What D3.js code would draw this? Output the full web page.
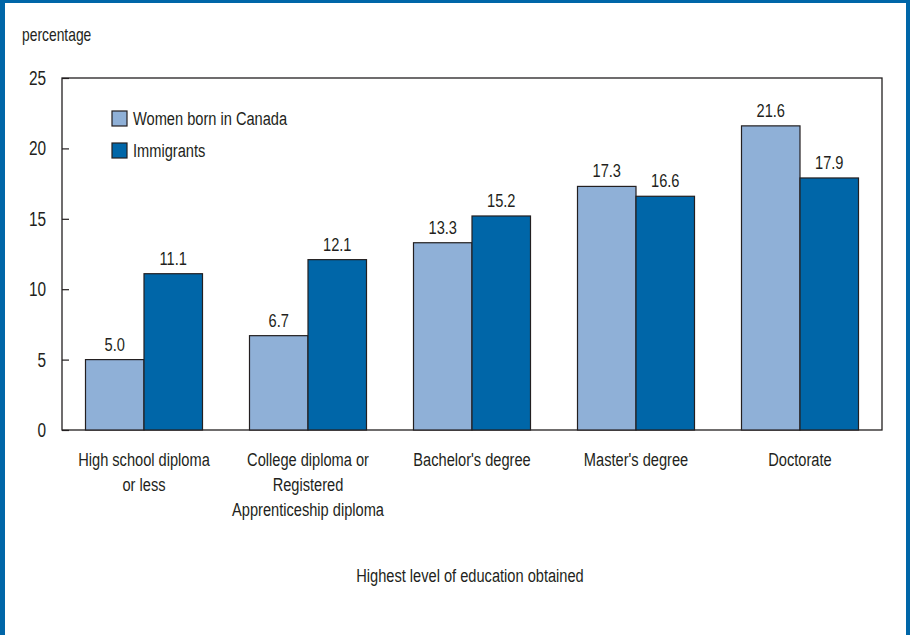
<!DOCTYPE html>
<html>
<head>
<meta charset="utf-8">
<script src="https://cdn.jsdelivr.net/npm/d3@7"></script>
<style>
  html, body { margin: 0; padding: 0; background: #fff; }
  svg { display: block; }
  text { font-family: "Liberation Sans", Arial, sans-serif; fill: #231f20; }
</style>
</head>
<body>
<svg id="chart" width="911" height="635"></svg>
<script>
// Education levels and rates (percentage) for the two groups
const categories = [
  ["High school diploma", "or less"],
  ["College diploma or", "Registered", "Apprenticeship diploma"],
  ["Bachelor's degree"],
  ["Master's degree"],
  ["Doctorate"]
];
const seriesNames = ["Women born in Canada", "Immigrants"];
const bornInCanada = [5.0, 6.7, 13.3, 17.3, 21.6];
const immigrants = [11.1, 12.1, 15.2, 16.6, 17.9];
const yTicks = [0, 5, 10, 15, 20, 25];

const colors = ["#8fb0d7", "#0066a8"];
const frameBlue = "#0066a8";
const NARROW = 0.77; // horizontal squeeze giving a condensed face

const svg = d3.select("#chart");
const H = 635;
const plot = { left: 62, right: 882, top: 78, bottom: 430 };

// condensed text placed at (x, y)
function label(parent, x, y, txt, size, anchor) {
  return parent.append("text")
    .attr("transform", `translate(${x},${y}) scale(${NARROW},1)`)
    .attr("text-anchor", anchor || "start")
    .style("font-size", size + "px")
    .text(txt);
}

// outer frame (left, top, right edges)
svg.append("rect").attr("x", 0).attr("y", 0).attr("width", 5).attr("height", H).attr("fill", frameBlue);
svg.append("rect").attr("x", 0).attr("y", 0).attr("width", 910).attr("height", 3).attr("fill", frameBlue);
svg.append("rect").attr("x", 906).attr("y", 0).attr("width", 4).attr("height", H).attr("fill", frameBlue);

const x0 = d3.scaleBand()
  .domain(d3.range(categories.length))
  .range([plot.left, plot.right])
  .paddingInner(0.2866)
  .paddingOuter(0.1433);
const x1 = d3.scaleBand().domain([0, 1]).range([0, x0.bandwidth()]);
const y = d3.scaleLinear().domain([0, 25]).range([plot.bottom, plot.top]);

// plot frame
svg.append("rect")
  .attr("x", plot.left).attr("y", plot.top)
  .attr("width", plot.right - plot.left).attr("height", plot.bottom - plot.top)
  .attr("fill", "none").attr("stroke", "#231f20").attr("stroke-width", 1.3);

// y axis ticks pointing inward
const yAxis = d3.axisRight(y).tickValues(yTicks).tickSize(7).tickFormat("");
const gy = svg.append("g").attr("transform", `translate(${plot.left},0)`).call(yAxis);
gy.select(".domain").remove();
gy.selectAll("line").attr("stroke", "#231f20").attr("stroke-width", 1.2);

yTicks.forEach(t => label(svg, 46, y(t) + 7, String(t), 20, "end"));

label(svg, 22, 41, "percentage", 18);

const series = [bornInCanada, immigrants];

// bars and value labels
series.forEach((vals, s) => {
  svg.append("g").selectAll("rect").data(vals).enter().append("rect")
    .attr("x", (d, i) => x0(i) + x1(s))
    .attr("y", d => y(d))
    .attr("width", x1.bandwidth())
    .attr("height", d => y(0) - y(d))
    .attr("fill", colors[s])
    .attr("stroke", "#231f20")
    .attr("stroke-width", 1.2);

  vals.forEach((d, i) => {
    label(svg, x0(i) + x1(s) + x1.bandwidth() / 2, y(d) - 9, d.toFixed(1), 19, "middle");
  });
});

// category labels
categories.forEach((lines, i) => {
  const cx = x0(i) + x0.bandwidth() / 2;
  const t = label(svg, cx, 466, null, 19, "middle");
  lines.forEach((ln, k) => {
    t.append("tspan").attr("x", 0).attr("dy", k === 0 ? 0 : 25).text(ln);
  });
});

label(svg, (plot.left + plot.right) / 2 - 2, 582, "Highest level of education obtained", 19, "middle");

// legend
const legend = svg.append("g");
seriesNames.forEach((name, s) => {
  const yy = 111 + s * 32;
  legend.append("rect").attr("x", 112).attr("y", yy).attr("width", 15).attr("height", 15)
    .attr("fill", colors[s]).attr("stroke", "#231f20").attr("stroke-width", 1.2);
  label(legend, 133, yy + 14, name, 19);
});
</script>
</body>
</html>
